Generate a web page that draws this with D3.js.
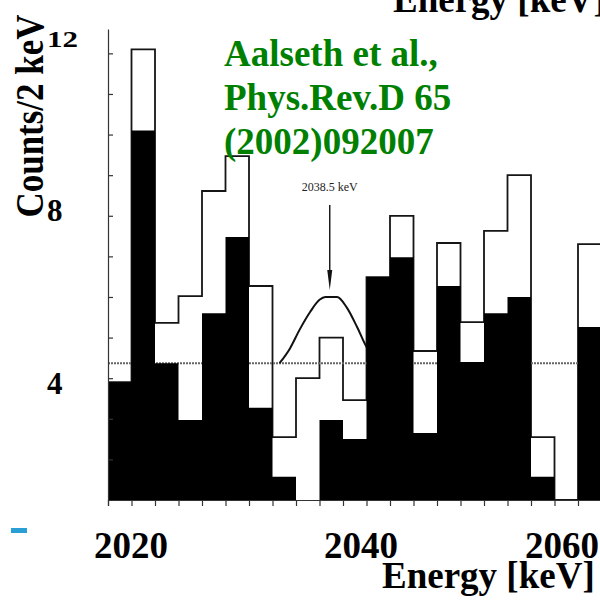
<!DOCTYPE html>
<html>
<head>
<meta charset="utf-8">
<script src="https://cdn.jsdelivr.net/npm/d3@7"></script>
<style>
  body { margin: 0; background: #fff; }
  svg { display: block; font-family: "Liberation Serif", "DejaVu Serif", serif; }
</style>
</head>
<body>
<div id="chart"></div>
<script>
// histogram, 2 keV bins starting at binStart
var binStart = 2019.5, binWidth = 2;
var totalCounts = [2.9, 11.1, 4.36, 5.02, 7.61, 8.47, 5.27, 1.55, 3.0, 4.0, 2.46,
                   5.49, 7.0, 3.67, 6.33, 4.38, 6.63, 8.0, 1.55, 0, 6.3];
var blackCounts = [2.9, 9.1, 3.37, 1.97, 4.6, 6.48, 2.27, 0.57, 0, 1.97, 1.5,
                   5.49, 5.98, 1.65, 5.27, 3.4, 4.6, 5.0, 0.57, 0, 4.26];
var bgLevel = 3.37;

// peak curve
var peakE = [2034.1, 2035.0, 2035.8, 2036.7, 2037.5, 2038.0, 2039.0, 2039.8, 2040.7, 2041.5, 2042.0];
var peakC = [3.37, 3.74, 4.19, 4.63, 4.93, 5.0, 5.0, 4.75, 4.26, 3.77, 3.57];
var peakMark = 2038.5;

var xLabels = [2020, 2040, 2060];
var yLabels = [12, 8, 4];
var noteLines = ["Aalseth et al.,", "Phys.Rev.D 65", "(2002)092007"];

var W = 600, H = 600;
var svg = d3.select("#chart").append("svg").attr("width", W).attr("height", H);

var x = d3.scaleLinear().domain([binStart, binStart + binWidth * 21]).range([108, 601.5]);
var y = d3.scaleLinear().domain([0, 11.6]).range([500, 29]);

// overlay labels were typed on the slide, not on the axis
var xLab = d3.scaleLinear().domain([2020, 2040, 2060]).range([131, 361, 562]);
var yLab = d3.scaleLinear().domain([4, 12]).range([394, 47]);

var edges = d3.range(totalCounts.length + 1).map(function(i){ return binStart + i * binWidth; });
var stepData = edges.map(function(e, i){ return {e: e, v: totalCounts[Math.min(i, totalCounts.length - 1)]}; });
var fillData = edges.map(function(e, i){ return {e: e, v: blackCounts[Math.min(i, blackCounts.length - 1)]}; });

// open histogram outline
svg.append("path")
   .datum(stepData)
   .attr("d", d3.line().curve(d3.curveStepAfter)
        .x(function(d){ return x(d.e); })
        .y(function(d){ return y(d.v); }))
   .attr("fill", "none").attr("stroke", "#151515").attr("stroke-width", 1.8);

// background level
svg.append("line")
   .attr("x1", x(binStart)).attr("x2", W)
   .attr("y1", y(bgLevel)).attr("y2", y(bgLevel))
   .attr("stroke", "#666").attr("stroke-width", 2).attr("stroke-dasharray", "2,1");

// peak curve
svg.append("path")
   .datum(d3.zip(peakE, peakC))
   .attr("d", d3.line().curve(d3.curveMonotoneX)
        .x(function(d){ return x(d[0]); })
        .y(function(d){ return y(d[1]); }))
   .attr("fill", "none").attr("stroke", "#111").attr("stroke-width", 2);

// filled histogram
svg.append("path")
   .datum(fillData)
   .attr("d", d3.area().curve(d3.curveStepAfter)
        .x(function(d){ return x(d.e); })
        .y0(y(0))
        .y1(function(d){ return y(d.v); }))
   .attr("fill", "#000");

// axes
svg.append("g").attr("transform", "translate(0," + y(0) + ")")
   .call(d3.axisBottom(x).tickValues(edges).tickSize(6).tickFormat(""));
svg.append("g").attr("transform", "translate(" + x(binStart) + ",0)")
   .call(d3.axisLeft(y).tickValues(d3.range(1, 12)).tickSizeInner(-5).tickSizeOuter(0).tickFormat(""));
svg.selectAll(".domain").attr("stroke", "#333").attr("stroke-width", 1.2);
svg.selectAll(".tick line").attr("stroke", "#333").attr("stroke-width", 1.2);

// arrow at the expected peak
var ax = x(peakMark) - 1.5;
svg.append("line").attr("x1", ax).attr("x2", ax).attr("y1", 205).attr("y2", 280)
   .attr("stroke", "#111").attr("stroke-width", 1.4);
svg.append("path")
   .attr("d", "M" + (ax - 2.5) + ",270 L" + (ax + 2.5) + ",270 L" + ax + ",290 Z")
   .attr("fill", "#111");
svg.append("text").attr("x", ax).attr("y", 191)
   .attr("text-anchor", "middle").attr("font-size", 13)
   .attr("textLength", 56).attr("lengthAdjust", "spacingAndGlyphs")
   .attr("fill", "#222").text(peakMark + " keV");

// tick labels
svg.selectAll(".xlab").data(xLabels).enter().append("text")
   .attr("x", function(d){ return xLab(d); }).attr("y", 558)
   .attr("text-anchor", "middle").attr("font-size", 37).attr("font-weight", "bold")
   .text(function(d){ return d; });

svg.selectAll(".ylab").data(yLabels).enter().append("text")
   .attr("transform", function(d){
       return "translate(47," + yLab(d) + ")" + (d === 12 ? " scale(1,0.75)" : "");
   })
   .attr("font-size", 31).attr("font-weight", "bold")
   .text(function(d){ return d; });

// axis titles
svg.append("text")
   .attr("transform", "translate(43,116) rotate(-90)")
   .attr("text-anchor", "middle").attr("font-size", 40).attr("font-weight", "bold")
   .attr("textLength", 203).attr("lengthAdjust", "spacingAndGlyphs")
   .text("Counts/2 keV");
svg.append("text").attr("x", 382).attr("y", 588)
   .attr("font-size", 37).attr("font-weight", "bold").text("Energy [keV]");
svg.append("text").attr("x", 393).attr("y", 12)
   .attr("font-size", 37).attr("font-weight", "bold").text("Energy [keV]");

// reference note
svg.selectAll(".note").data(noteLines).enter().append("text")
   .attr("x", 224).attr("y", function(d, i){ return 66 + i * 44; })
   .attr("font-size", 37).attr("font-weight", "bold").attr("fill", "#008000")
   .text(function(d){ return d; });

// stray legend mark
svg.append("rect").attr("x", 11).attr("y", 528).attr("width", 16).attr("height", 5)
   .attr("fill", "#2a9fd6");
</script>
</body>
</html>
